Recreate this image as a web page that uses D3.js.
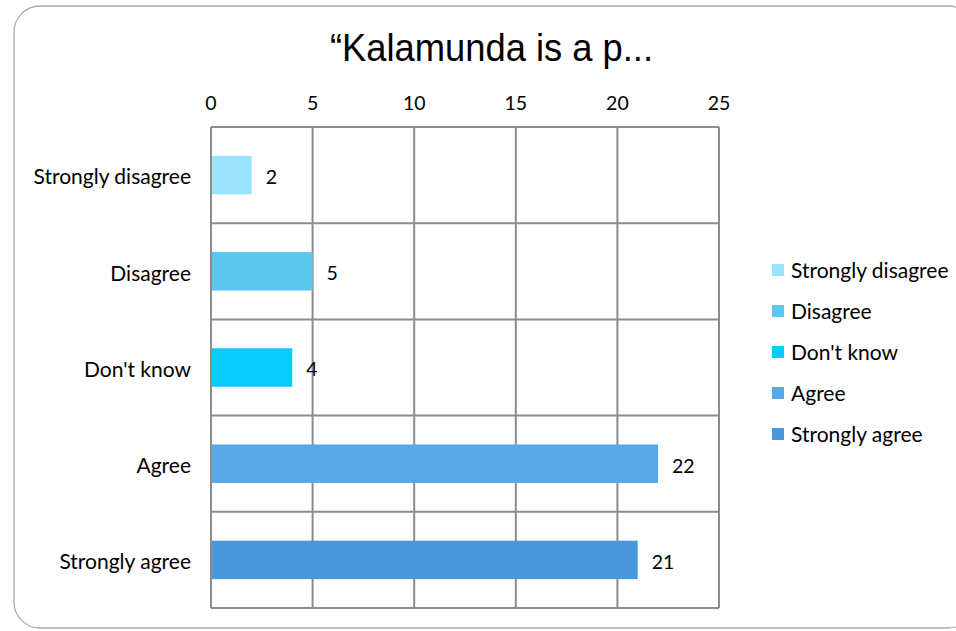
<!DOCTYPE html>
<html><head><meta charset="utf-8">
<script src="https://cdn.jsdelivr.net/npm/d3@7"></script>
<style>body{margin:0;background:#fff}svg{display:block}</style>
</head><body>
<script>
const categories = ["Strongly disagree","Disagree","Don't know","Agree","Strongly agree"];
const values = [2,5,4,22,21];
const colors = ["#9be3fd","#5bc6ee","#07cbfb","#56a8e6","#4a97dd"];
const xTicks = [0,5,10,15,20,25];
const title = "\u201cKalamunda is a p...";

const W=956,H=631;
const svg=d3.select("body").append("svg").attr("width",W).attr("height",H);
svg.append("rect").attr("x",14).attr("y",6).attr("width",960).attr("height",622)
  .attr("rx",26).attr("fill","#fff").attr("stroke","#ababab").attr("stroke-width",1.3);

svg.append("text").attr("x",330).attr("y",61)
  .attr("textLength",323).attr("lengthAdjust","spacingAndGlyphs")
  .attr("font-family","Liberation Sans, Arial, sans-serif").attr("font-size",38).attr("fill","#000").text(title);

const m={l:211,r:719,t:127,b:608};
const x=d3.scaleLinear().domain([0,25]).range([m.l,m.r]);
const y=d3.scaleBand().domain(categories).range([m.t,m.b]).paddingInner(0).paddingOuter(0);
const font="Lato, 'Open Sans', sans-serif";

const g=svg.append("g");
g.selectAll("line.v").data(xTicks).join("line").attr("x1",d=>x(d)).attr("x2",d=>x(d))
  .attr("y1",m.t).attr("y2",m.b).attr("stroke","#8c8c8c").attr("stroke-width",2);
const hs=categories.map(c=>y(c)).concat([m.b]);
g.selectAll("line.h").data(hs).join("line").attr("x1",m.l).attr("x2",m.r)
  .attr("y1",d=>d).attr("y2",d=>d).attr("stroke","#8c8c8c").attr("stroke-width",2);

const bh=y.bandwidth()*0.4;
g.selectAll("rect.bar").data(values).join("rect")
  .attr("x",x(0)+1).attr("y",(d,i)=>y(categories[i])+(y.bandwidth()-bh)/2)
  .attr("width",d=>x(d)-x(0)-1).attr("height",bh).attr("fill",(d,i)=>colors[i]);

g.selectAll("text.val").data(values).join("text")
  .attr("x",d=>x(d)+14).attr("y",(d,i)=>y(categories[i])+y.bandwidth()/2+2)
  .attr("dy","0.35em").attr("font-family",font).attr("font-size",19.5).attr("fill","#000").text(d=>d);

g.selectAll("text.xt").data(xTicks).join("text").attr("x",d=>x(d)).attr("y",103)
  .attr("dy","0.35em").attr("text-anchor","middle").attr("font-family",font).attr("font-size",19.5).text(d=>d);

g.selectAll("text.cat").data(categories).join("text").attr("x",191)
  .attr("y",d=>y(d)+y.bandwidth()/2+2).attr("dy","0.35em").attr("text-anchor","end")
  .attr("font-family",font).attr("font-size",21).text(d=>d);

const lg=svg.append("g");
const ly=d3.scalePoint().domain(categories).range([270,434]);
lg.selectAll("rect").data(categories).join("rect").attr("x",772).attr("y",d=>ly(d)-6)
  .attr("width",12).attr("height",12).attr("fill",(d,i)=>colors[i]);
lg.selectAll("text").data(categories).join("text").attr("x",791).attr("y",d=>ly(d)+1)
  .attr("dy","0.35em").attr("font-family",font).attr("font-size",21).text(d=>d);
</script>
</body></html>
